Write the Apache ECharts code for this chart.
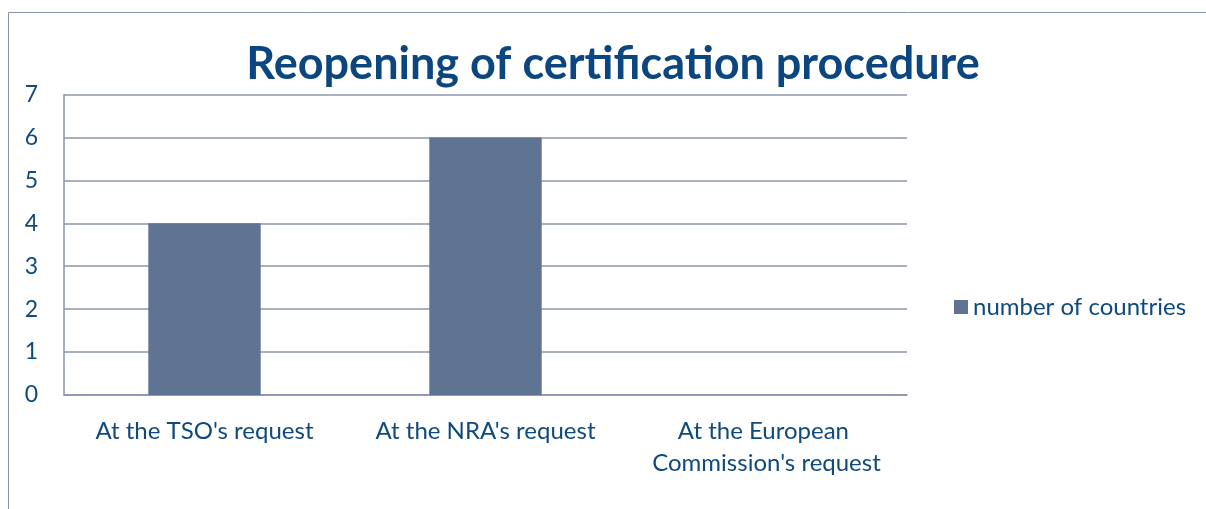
<!DOCTYPE html>
<html>
<head>
<meta charset="utf-8">
<script src="https://cdn.jsdelivr.net/npm/echarts@6/dist/echarts.min.js"></script>
<style>
    html, body { margin: 0; padding: 0; background: #fff; }
    #main { width: 1206px; height: 509px; }
</style>
</head>
<body>
<div id="main"></div>
<script>
// 数据
const categories = ["At the TSO's request", "At the NRA's request", "At the European Commission's request"];
const seriesName = 'number of countries';
const countries = [4, 6, 0];
const yTicks = [0, 1, 2, 3, 4, 5, 6, 7];

const textColor = '#0f4a7e';
const lineColor = '#8a94ab';

const chart = echarts.init(document.getElementById('main'), null, { renderer: 'canvas' });

const option = {
    backgroundColor: '#fff',
    animation: false,
    textStyle: { fontFamily: 'Lato' },
    title: {
        text: 'Reopening of certification procedure',
        left: 613,
        textAlign: 'center',
        top: 38,
        textStyle: {
            fontFamily: 'Lato',
            fontWeight: 'bold',
            fontSize: 45,
            color: '#0b4680',
            lineHeight: 52
        },
        padding: 0
    },
    graphic: [
        {
            type: 'rect',
            shape: { x: 8.5, y: 12.5, width: 1300, height: 600 },
            style: { fill: 'none', stroke: lineColor, lineWidth: 1 },
            silent: true
        }
    ],
    legend: {
        data: [seriesName],
        left: 949,
        top: 290,
        icon: 'rect',
        itemWidth: 14,
        itemHeight: 14,
        itemGap: 0,
        textStyle: { fontFamily: 'Lato', fontSize: 24, color: textColor, padding: [0, 0, 0, 0] }
    },
    grid: {
        left: 64,
        right: 299,
        top: 94.5,
        bottom: 114,
        containLabel: false
    },
    xAxis: {
        type: 'category',
        data: categories,
        axisLine: { show: true, lineStyle: { color: lineColor, width: 1.5 } },
        axisTick: { show: false },
        axisLabel: {
            interval: 0,
            color: textColor,
            fontSize: 24,
            lineHeight: 32,
            margin: 20,
            width: 250,
            overflow: 'break'
        }
    },
    yAxis: {
        type: 'value',
        min: yTicks[0],
        max: yTicks[yTicks.length - 1],
        interval: 1,
        axisLine: { show: true, lineStyle: { color: lineColor, width: 1.5 } },
        axisTick: { show: false },
        axisLabel: { color: textColor, fontSize: 23, margin: 26 },
        splitLine: { show: true, lineStyle: { color: lineColor, width: 1.5 } }
    },
    series: [
        {
            name: seriesName,
            type: 'bar',
            data: countries,
            barWidth: '40%',
            itemStyle: { color: '#5f7393' }
        }
    ]
};

chart.setOption(option);
window.addEventListener('resize', chart.resize);
</script>
</body>
</html>
